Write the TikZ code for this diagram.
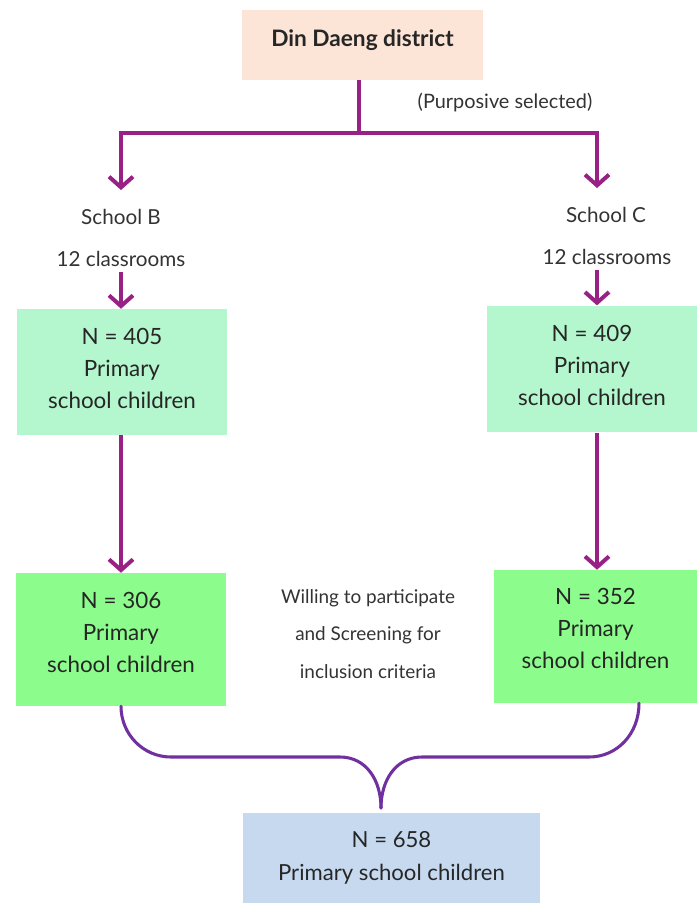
\documentclass[tikz,border=0pt]{standalone}
\usepackage{fontspec}
\setmainfont{Lato}
\usetikzlibrary{arrows.meta}
\definecolor{peach}{HTML}{FCE4D6}
\definecolor{mint}{HTML}{B4F6CD}
\definecolor{lgreen}{HTML}{8CFD8C}
\definecolor{lblue}{HTML}{C6D9EF}
\definecolor{arrpurple}{HTML}{992084}
\definecolor{bracepurple}{HTML}{7030A0}
\newcommand{\liftlines}[2]{\raisebox{#1}[\height][\depth]{\begin{tabular}{@{}c@{}}#2\end{tabular}}}
\tikzset{
  box/.style={inner sep=0pt, align=center, font=\fontsize{16.8}{24}\selectfont, text=black!85},
  lbl/.style={inner sep=1pt, align=center, font=\fontsize{15.5}{20}\selectfont, text=black!80},
  arr/.style={draw=arrpurple, line width=3pt, -{Straight Barb[length=8pt,width=18pt,line width=3pt]}},
  plain/.style={draw=arrpurple, line width=3pt},
  brace/.style={draw=bracepurple, line width=2.3pt, line cap=round}
}
\begin{document}
\begin{tikzpicture}[x=0.75pt,y=-0.75pt]
\useasboundingbox (0,0) rectangle (697,903);
% boxes
\node[box, fill=peach, minimum width=181pt, minimum height=52.5pt, font=\bfseries\fontsize{17}{20}\selectfont] (top) at (362.5,45) {\raisebox{4pt}[\height][\depth]{Din Daeng district}};
\node[box, fill=mint, minimum width=157.5pt, minimum height=94.5pt] (b1) at (122,372) {\liftlines{1.3pt}{N = 405\\Primary\\school children}};
\node[box, fill=mint, minimum width=157.5pt, minimum height=95pt] (c1) at (592,369) {\liftlines{1.3pt}{N = 409\\Primary\\school children}};
\node[box, fill=lgreen, minimum width=157.5pt, minimum height=99.75pt] (b2) at (121,639.5) {\liftlines{4pt}{N = 306\\Primary\\school children}};
\node[box, fill=lgreen, minimum width=152.25pt, minimum height=99.75pt] (c2) at (595.5,636.5) {\liftlines{4.5pt}{N = 352\\Primary\\school children}};
\node[box, fill=lblue, minimum width=222.75pt, minimum height=67.5pt, font=\fontsize{16.6}{25}\selectfont] (bot) at (391.5,858) {N = 658\\Primary school children};
% labels
\node[lbl, font=\fontsize{14.9}{16}\selectfont] (purp) at (505,102) {(Purposive selected)};
\node[lbl] (sb) at (121,217) {School B};
\node[lbl] (cb) at (121,259) {12 classrooms};
\node[lbl] (sc) at (606,215) {School C};
\node[lbl] (cc) at (607,257) {12 classrooms};
\node[lbl, font=\fontsize{14.2}{28}\selectfont] (mid) at (368,634) {Willing to participate\\and Screening for\\inclusion criteria};
% connectors
\coordinate (j) at (359,133);
\coordinate (tb) at (121,190);
\coordinate (tc) at (597,188);
\draw[plain] (top.south -| j) -- (j);
\draw[arr] (j) -| (tb);
\draw[arr] (j) -| (tc);
\draw[arr] (121,272) -- (b1.north -| 121,0);
\draw[arr] (597,270) -- (c1.north -| 597,0);
\draw[arr] (b1.south -| 121,0) -- (b2.north -| 121,0);
\draw[arr] (c1.south -| 597,0) -- (c2.north -| 597,0);
% brace
\coordinate (tip) at (381,808);
\draw[brace] (b2.south -| 121,0) .. controls (121,734) and (143,757) .. (171,757) -- (340,757)
  .. controls (366,757) and (381,780) .. (tip);
\draw[brace] (c2.south -| 639,0) .. controls (639,734) and (617,757) .. (589,757) -- (422,757)
  .. controls (396,757) and (381,780) .. (tip);
\end{tikzpicture}
\end{document}
